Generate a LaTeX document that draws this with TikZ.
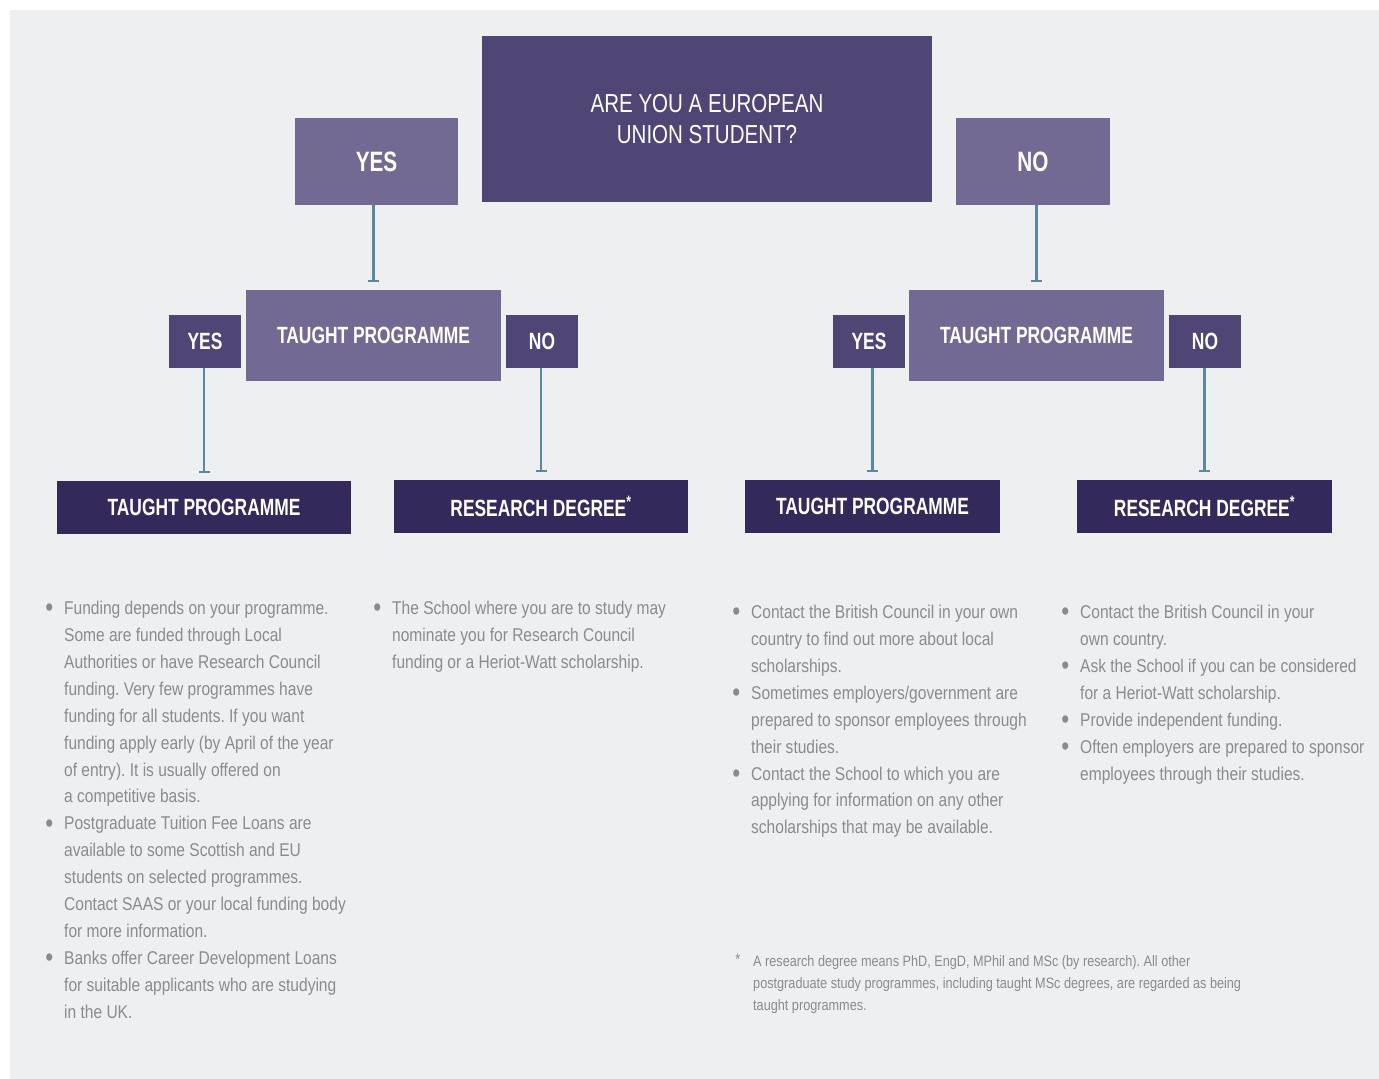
\documentclass[tikz,border=0pt]{standalone}
\usepackage{fontspec}
\setmainfont[FakeStretch=0.84]{Liberation Sans}
\newfontfamily\headfont[FakeStretch=0.74]{Liberation Sans}
\newfontfamily\qfont[FakeStretch=0.79]{Liberation Sans}
\usetikzlibrary{arrows.meta}

\definecolor{panelgray}{HTML}{EEEFF1}
\definecolor{qpurple}{HTML}{4F4675}
\definecolor{lightpurple}{HTML}{736A93}
\definecolor{darkpurple}{HTML}{33295B}
\definecolor{connblue}{HTML}{5A88A0}
\definecolor{bodygray}{HTML}{8A8B8F}

\newcommand{\bulletpt}{\llap{\raisebox{-2.2pt}{\fontsize{27}{0}\selectfont\textbullet}\hspace{11pt}}}
\newcommand{\starpt}{\llap{\raisebox{2pt}{*}\hspace{13pt}}}
\frenchspacing

\begin{document}
\begin{tikzpicture}[
      x=1pt, y=-1pt,
      mybox/.style={
         inner sep=0pt,
         text=white,
         align=center},
      qbox/.style={
         mybox,
         fill=qpurple,
         minimum width=450pt,
         minimum height=166pt,
         font={\qfont\fontsize{26}{31}\selectfont}},
      ansbox/.style={
         mybox,
         fill=lightpurple,
         font={\headfont\bfseries\fontsize{28}{32}\selectfont}},
      midbox/.style={
         mybox,
         fill=lightpurple,
         minimum width=255pt,
         minimum height=91pt,
         font={\headfont\bfseries\fontsize{23.5}{28}\selectfont}},
      tagbox/.style={
         mybox,
         fill=qpurple,
         minimum width=72pt,
         minimum height=53pt,
         font={\headfont\bfseries\fontsize{23.5}{28}\selectfont}},
      endbox/.style={
         mybox,
         fill=darkpurple,
         minimum height=53pt,
         font={\headfont\bfseries\fontsize{23.5}{28}\selectfont}},
      listtext/.style={
         inner sep=0pt,
         anchor=north west,
         align=left,
         text=bodygray,
         font={\fontsize{18.5}{26.9}\selectfont}},
      notetext/.style={
         listtext,
         font={\fontsize{15.1}{22}\selectfont}},
      myconn/.style={
         draw=connblue,
         line width=2.2pt,
         -{Bar[width=11pt]},
         shorten >=8pt}
      ]
      \useasboundingbox (0,0) rectangle (1379,1079);
      \fill[panelgray] (10,10) rectangle (1379,1079);

      % question and first answers
      \node[qbox] (q) at (707,119) {ARE YOU A EUROPEAN\\UNION STUDENT?};
      \node[ansbox,minimum width=163pt,minimum height=87pt] (yesT) at (376.5,161.5) {YES};
      \node[ansbox,minimum width=154pt,minimum height=87pt] (noT) at (1033,161.5) {NO};

      % second level
      \node[midbox] (tpL) at (373.5,335.5) {TAUGHT PROGRAMME};
      \node[tagbox] (yesL) at (205,341.5) {YES};
      \node[tagbox] (noL) at (542,341.5) {NO};
      \node[midbox] (tpR) at (1036.5,335.5) {TAUGHT PROGRAMME};
      \node[tagbox] (yesR) at (869,341.5) {YES};
      \node[tagbox] (noR) at (1205,341.5) {NO};

      % outcomes
      \node[endbox,minimum width=294pt] (tpLL) at (204,507.5) {TAUGHT PROGRAMME};
      \node[endbox,minimum width=294pt] (rdL) at (541,506.5) {RESEARCH DEGREE\textsuperscript{*}};
      \node[endbox,minimum width=255pt] (tpRR) at (872.5,506.5) {TAUGHT PROGRAMME};
      \node[endbox,minimum width=255pt] (rdR) at (1204.5,506.5) {RESEARCH DEGREE\textsuperscript{*}};

    \foreach \i/\j in {% from node/to node
      yesT/tpL,
      noT/tpR,
      yesL/tpLL,
      noL/rdL,
      yesR/tpRR,
      noR/rdR}
       \draw [myconn] (\j.north |- \i.south) -- (\j.north);

      % bullet lists
      \node[listtext] (listA) at (64,601) {%
        \bulletpt Funding depends on your programme.\\
        Some are funded through Local\\
        Authorities or have Research Council\\
        funding. Very few programmes have\\
        funding for all students. If you want\\
        funding apply early (by April of the year\\
        of entry). It is usually offered on\\
        a competitive basis.\\
        \bulletpt Postgraduate Tuition Fee Loans are\\
        available to some Scottish and EU\\
        students on selected programmes.\\
        Contact SAAS or your local funding body\\
        for more information.\\
        \bulletpt Banks offer Career Development Loans\\
        for suitable applicants who are studying\\
        in the UK.};
      \node[listtext] (listB) at (392,601) {%
        \bulletpt The School where you are to study may\\
        nominate you for Research Council\\
        funding or a Heriot-Watt scholarship.};
      \node[listtext] (listC) at (751,605) {%
        \bulletpt Contact the British Council in your own\\
        country to find out more about local\\
        scholarships.\\
        \bulletpt Sometimes employers/government are\\
        prepared to sponsor employees through\\
        their studies.\\
        \bulletpt Contact the School to which you are\\
        applying for information on any other\\
        scholarships that may be available.};
      \node[listtext] (listD) at (1080,605) {%
        \bulletpt Contact the British Council in your\\
        own country.\\
        \bulletpt Ask the School if you can be considered\\
        for a Heriot-Watt scholarship.\\
        \bulletpt Provide independent funding.\\
        \bulletpt Often employers are prepared to sponsor\\
        employees through their studies.};

      % footnote
      \node[notetext] (note) at (753,954) {%
        \starpt A research degree means PhD, EngD, MPhil and MSc (by research). All other\\
        postgraduate study programmes, including taught MSc degrees, are regarded as being\\
        taught programmes.};
    \end{tikzpicture}
\end{document}
